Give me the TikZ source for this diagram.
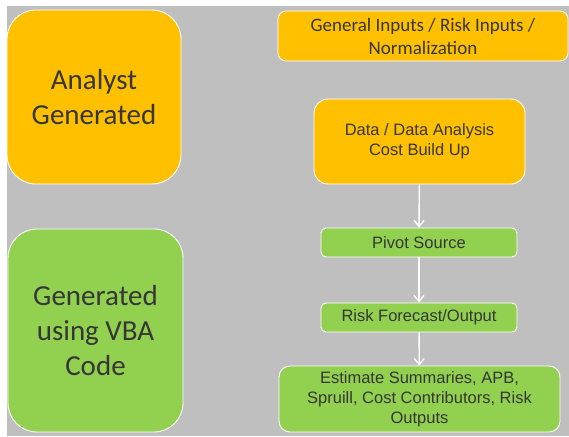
\documentclass[tikz,border=0pt]{standalone}
\usepackage{fontspec}
\setmainfont{Liberation Sans}
\newfontfamily\calibri{Carlito}
\usepackage{xcolor}
\usetikzlibrary{
  arrows.meta,
  positioning
}
\definecolor{bgGray}{HTML}{BFBFBF}
\definecolor{boxOrange}{HTML}{FFC000}
\definecolor{boxGreen}{HTML}{92D050}
\definecolor{textGray}{HTML}{363636}

\begin{document}
\begin{tikzpicture}[x=1pt, y=-1pt,
    every node/.style={inner sep=0pt, text=textGray, align=center},
    block/.style={draw=white, line width=0.9pt},
    analyst/.style={block, fill=boxOrange},
    vba/.style={block, fill=boxGreen},
    bigtext/.style={font=\calibri\fontsize{29}{35}\selectfont},
    mdtext/.style={font=\calibri\fontsize{19}{23}\selectfont},
    smtext/.style={font=\fontsize{16.5}{20}\selectfont},
    flow/.style={draw=white, line width=1.4pt, -{Straight Barb[length=6pt, width=10pt, line width=1.4pt]}}]
\useasboundingbox (0,0) rectangle (569,436);
\fill[white] (0,0) rectangle (569,436);
\fill[bgGray] (7,6) rectangle (569,436);

% legend boxes on the left
\node [analyst, bigtext, rounded corners=29pt, minimum width=174pt, minimum height=174pt]
  (analyst) at (94,97) {Analyst\\Generated};
\node [vba, bigtext, rounded corners=29pt, minimum width=175pt, minimum height=203pt]
  (vbacode) at (95.5,330.5) {Generated\\using VBA\\Code};

% process steps
\node [analyst, mdtext, rounded corners=8pt, minimum width=290pt, minimum height=50pt]
  (inputs) at (423,36) {General Inputs / Risk Inputs /\\Normalization};
\node [analyst, smtext, rounded corners=14pt, minimum width=211pt, minimum height=85pt]
  (data) at (419.5,141.5) {Data / Data Analysis\\Cost Build Up};
\node [vba, smtext, rounded corners=5pt, minimum width=196pt, minimum height=29pt]
  (pivot) at (419,242.5) {Pivot Source};
\node [vba, smtext, rounded corners=5pt, minimum width=196pt, minimum height=29pt]
  (forecast) at (419,317.5) {Risk Forecast/Output};
\node [vba, smtext, rounded corners=11pt, minimum width=281pt, minimum height=66pt]
  (summaries) at (419.5,399) {Estimate Summaries, APB,\\Spruill, Cost Contributors, Risk\\Outputs};

\draw [flow] (data) -- (pivot);
\draw [flow] (pivot) -- (forecast);
\draw [flow] (forecast) -- (summaries);
\end{tikzpicture}
\end{document}
